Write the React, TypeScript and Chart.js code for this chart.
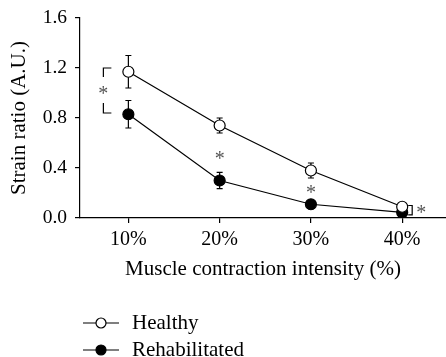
import React, { useEffect, useRef } from "react";
import { Chart, registerables } from "chart.js";

Chart.register(...registerables);

const categories = [10, 20, 30, 40];
const tickLabels = ["10%", "20%", "30%", "40%"];
const healthy = [1.17, 0.74, 0.38, 0.09];
const healthyErr = [0.13, 0.06, 0.06, 0.02];
const rehab = [0.83, 0.3, 0.11, 0.045];
const rehabErr = [0.11, 0.065, 0.035, 0.02];
const yTicks = [0, 0.4, 0.8, 1.2, 1.6];
const seriesNames = ["Healthy", "Rehabilitated"];

const FONT = "'Liberation Serif', 'Times New Roman', serif";

const errorBarPlugin = {
  id: "errorBars",
  beforeDatasetsDraw(chart: any) {
    const { ctx, scales } = chart;
    const xs = scales.x;
    const ys = scales.y;
    const sets = [
      { v: healthy, e: healthyErr },
      { v: rehab, e: rehabErr },
    ];
    ctx.save();
    ctx.strokeStyle = "#000";
    ctx.lineWidth = 1.2;
    sets.forEach(({ v, e }) => {
      v.forEach((val, i) => {
        const x = xs.getPixelForValue(categories[i]);
        const yt = ys.getPixelForValue(val + e[i]);
        const yb = ys.getPixelForValue(val - e[i]);
        ctx.beginPath();
        ctx.moveTo(x, yt);
        ctx.lineTo(x, yb);
        ctx.moveTo(x - 3, yt);
        ctx.lineTo(x + 3, yt);
        ctx.moveTo(x - 3, yb);
        ctx.lineTo(x + 3, yb);
        ctx.stroke();
      });
    });
    ctx.restore();
  },
};

const annotationPlugin = {
  id: "annotations",
  afterDraw(chart: any) {
    const { ctx, scales, chartArea } = chart;
    const xs = scales.x;
    const ys = scales.y;
    ctx.save();
    // bracket at 10%
    const bx = xs.getPixelForValue(categories[0]) - 25;
    const yTop = ys.getPixelForValue(1.2);
    const yBot = ys.getPixelForValue(0.84);
    const yMid = (yTop + yBot) / 2;
    ctx.strokeStyle = "#000";
    ctx.lineWidth = 1.2;
    ctx.beginPath();
    ctx.moveTo(bx + 8, yTop);
    ctx.lineTo(bx, yTop);
    ctx.lineTo(bx, yTop + 9);
    ctx.moveTo(bx, yBot - 10);
    ctx.lineTo(bx, yBot);
    ctx.lineTo(bx + 8, yBot);
    ctx.stroke();

    ctx.fillStyle = "#555";
    ctx.font = `20px ${FONT}`;
    ctx.textAlign = "center";
    ctx.textBaseline = "middle";
    const star = (x: number, y: number) => ctx.fillText("*", x, y + 4);
    star(bx, yMid);
    star(xs.getPixelForValue(categories[1]), ys.getPixelForValue(0.5));
    star(xs.getPixelForValue(categories[2]), ys.getPixelForValue(0.225));

    // bracket at 40%
    const x4 = xs.getPixelForValue(categories[3]);
    const y4t = ys.getPixelForValue(healthy[3] + 0.01);
    const y4b = ys.getPixelForValue(rehab[3] - 0.02);
    ctx.beginPath();
    ctx.moveTo(x4 + 6, y4t);
    ctx.lineTo(x4 + 10, y4t);
    ctx.lineTo(x4 + 10, y4b);
    ctx.lineTo(x4 + 6, y4b);
    ctx.stroke();
    star(x4 + 19, (y4t + y4b) / 2);

    // legend
    const lx = chartArea.left + 3;
    const items = [
      { name: seriesNames[0], fill: "#fff", y: 323 },
      { name: seriesNames[1], fill: "#000", y: 350 },
    ];
    items.forEach((it) => {
      ctx.strokeStyle = "#000";
      ctx.lineWidth = 1.2;
      ctx.beginPath();
      ctx.moveTo(lx, it.y);
      ctx.lineTo(lx + 36, it.y);
      ctx.stroke();
      ctx.beginPath();
      ctx.arc(lx + 18, it.y, 5, 0, Math.PI * 2);
      ctx.fillStyle = it.fill;
      ctx.fill();
      ctx.stroke();
      ctx.fillStyle = "#000";
      ctx.font = `21px ${FONT}`;
      ctx.textAlign = "left";
      ctx.textBaseline = "middle";
      ctx.fillText(it.name, lx + 49, it.y);
    });
    ctx.restore();
  },
};

export default function App() {
  const ref = useRef<HTMLCanvasElement>(null);
  useEffect(() => {
    document.body.style.margin = "0";
    const chart = new Chart(ref.current as HTMLCanvasElement, {
      type: "line",
      data: {
        datasets: [
          {
            label: seriesNames[0],
            data: categories.map((c, i) => ({ x: c, y: healthy[i] })),
            borderColor: "#000",
            borderWidth: 1.2,
            backgroundColor: "#fff",
            pointBackgroundColor: "#fff",
            pointBorderColor: "#000",
            pointBorderWidth: 1.2,
            pointRadius: 5.5,
            tension: 0,
          },
          {
            label: seriesNames[1],
            data: categories.map((c, i) => ({ x: c, y: rehab[i] })),
            borderColor: "#000",
            borderWidth: 1.2,
            backgroundColor: "#000",
            pointBackgroundColor: "#000",
            pointBorderColor: "#000",
            pointBorderWidth: 1.2,
            pointRadius: 5.5,
            tension: 0,
          },
        ],
      },
      options: {
        responsive: false,
        animation: false,
        events: [],
        layout: { autoPadding: false, padding: { top: 18, right: 0, bottom: 75, left: 0 } },
        plugins: { legend: { display: false }, tooltip: { enabled: false } },
        scales: {
          x: {
            type: "linear",
            min: 4.7,
            max: 44.8,
            afterBuildTicks: (s: any) => {
              s.ticks = categories.map((v) => ({ value: v }));
            },
            afterFit: (s: any) => {
              s.height = 64;
              s.paddingLeft = 0;
              s.paddingRight = 0;
            },
            ticks: {
              autoSkip: false,
              maxRotation: 0,
              color: "#000",
              padding: 5,
              font: { family: FONT, size: 20 },
              callback: (v: any) => tickLabels[categories.indexOf(Number(v))] ?? "",
            },
            grid: { display: true, drawOnChartArea: false, drawTicks: true, tickLength: 5, color: "#000", lineWidth: 1.2 },
            border: { display: true, color: "#000", width: 1.2 },
            title: {
              display: true,
              text: "Muscle contraction intensity (%)",
              color: "#000",
              font: { family: FONT, size: 21 },
              padding: { top: 0, bottom: 0 },
            },
          },
          y: {
            type: "linear",
            min: 0,
            max: 1.6,
            afterBuildTicks: (s: any) => {
              s.ticks = yTicks.map((v) => ({ value: v }));
            },
            afterFit: (s: any) => {
              s.width = 80;
              s.paddingTop = 0;
              s.paddingBottom = 0;
            },
            ticks: {
              color: "#000",
              padding: 8,
              font: { family: FONT, size: 19.5 },
              callback: (v: any) => Number(v).toFixed(1),
            },
            grid: { display: true, drawOnChartArea: false, drawTicks: true, tickLength: 5, color: "#000", lineWidth: 1.2 },
            border: { display: true, color: "#000", width: 1.2 },
            title: {
              display: true,
              text: "Strain ratio (A.U.)",
              color: "#000",
              font: { family: FONT, size: 21 },
              padding: { top: 7, bottom: 0 },
            },
          },
        },
      },
      plugins: [errorBarPlugin, annotationPlugin],
    } as any);
    return () => chart.destroy();
  }, []);
  return (
    <div style={{ width: 446, height: 357 }}>
      <canvas ref={ref} width={446} height={357} style={{ display: "block" }} />
    </div>
  );
}
